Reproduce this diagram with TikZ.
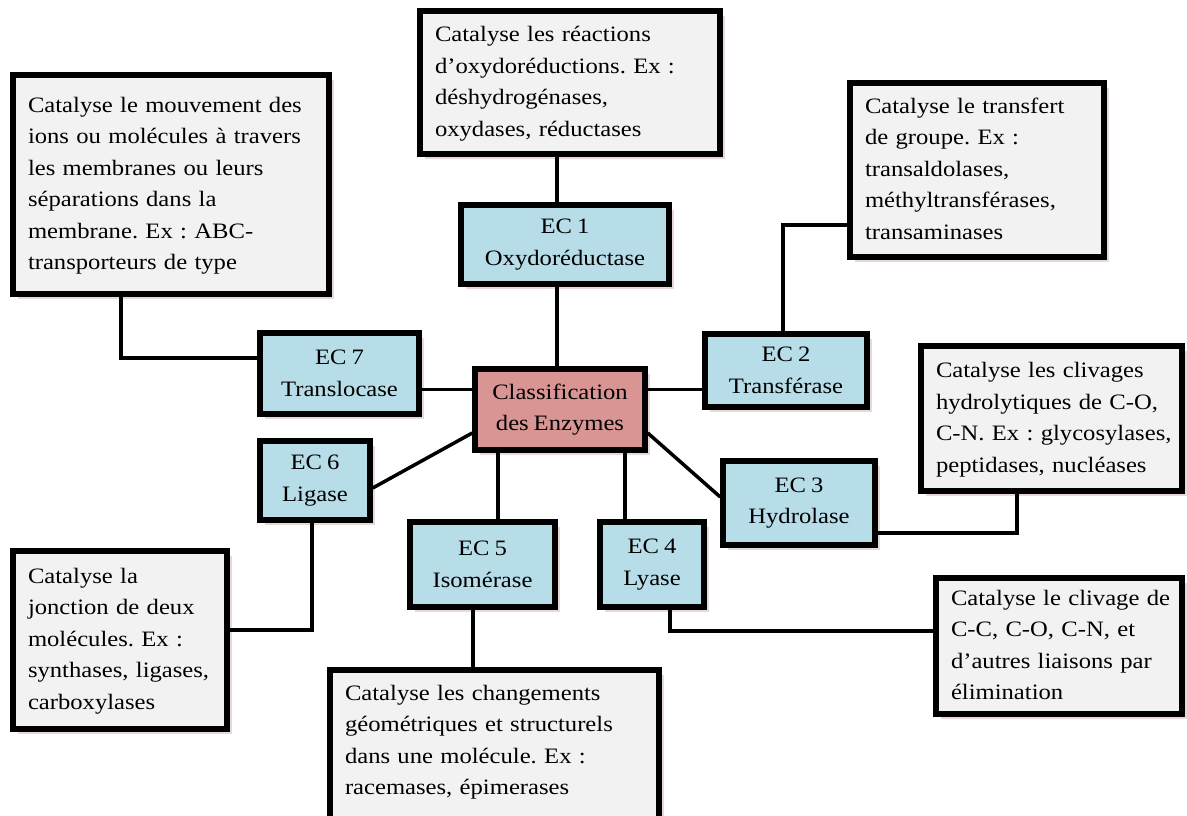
\documentclass[tikz,border=0pt]{standalone}
\usepackage{fontspec}
\setmainfont{Liberation Serif}[FakeStretch=1.12,WordSpace=0.8]
\usetikzlibrary{shadows}
\definecolor{Ink}{HTML}{000000}
\definecolor{Pale}{HTML}{F2F2F2}
\definecolor{Aqua}{HTML}{B7DDE8}
\definecolor{Rose}{HTML}{D99594}
\definecolor{Shade}{HTML}{CDB3B1}
\newcommand{\desclines}[1]{\begin{tabular}{@{}l@{}}#1\end{tabular}}
\frenchspacing

\begin{document}
\begin{tikzpicture}[x=1pt,y=-1pt,
    box/.style={draw=Ink,line width=5.5pt,font=\fontsize{22}{31.5}\selectfont,
      drop shadow={shadow xshift=5pt,shadow yshift=-5pt,fill=Shade}},
    sz/.style 2 args={minimum width=#1pt,minimum height=#2pt},
    ec/.style={box,fill=Aqua,align=center},
    hub/.style={box,fill=Rose,align=center},
    note/.style={box,fill=Pale,align=left},
    ln/.style={draw=Ink,line width=3.5pt}
  ]
    \useasboundingbox (0,0) rectangle (1187,816);
    % classes
    \node[hub,sz={170}{81}] (cls) at (560,409.5) {Classification\\des Enzymes};
    \node[ec,sz={208}{79}] (ec1) at (565,244.5) {EC 1\\Oxydoréductase};
    \node[ec,sz={162}{73}] (ec2) at (786,370.5) {EC 2\\Transférase};
    \node[ec,sz={152}{84}] (ec3) at (799,503) {EC 3\\Hydrolase};
    \node[ec,sz={104}{85}] (ec4) at (652,564.5) {EC 4\\Lyase};
    \node[ec,sz={145}{85}] (ec5) at (482.5,564.5) {EC 5\\Isomérase};
    \node[ec,sz={110}{79}] (ec6) at (315,480.5) {EC 6\\Ligase};
    \node[ec,sz={159}{81}] (ec7) at (339.5,373.5) {EC 7\\Translocase};
    % descriptions
    \node[note,sz={300}{143},text width=270pt] (d1) at (570,82.5) {\desclines{Catalyse les réactions\\d’oxydoréductions. Ex :\\déshydrogénases,\\oxydases, réductases}};
    \node[note,sz={254}{174},text width=224pt] (d2) at (977,170) {\desclines{Catalyse le transfert\\de groupe. Ex :\\transaldolases,\\méthyltransférases,\\transaminases}};
    \node[note,sz={261}{145},text width=231pt] (d3) at (1051.5,418.5) {\desclines{Catalyse les clivages\\hydrolytiques de C-O,\\C-N. Ex : glycosylases,\\peptidases, nucléases}};
    \node[note,sz={246}{136},text width=216pt] (d4) at (1059,646) {\desclines{Catalyse le clivage de\\C-C, C-O, C-N, et\\d’autres liaisons par\\élimination}};
    \node[note,sz={329}{174},text width=299pt] (d5) at (494.5,757) {\desclines{Catalyse les changements\\géométriques et structurels\\dans une molécule. Ex :\\racemases, épimerases\\ \mbox{}}};
    \node[note,sz={214}{178},text width=184pt] (d6) at (120,640) {\desclines{Catalyse la\\jonction de deux\\molécules. Ex :\\synthases, ligases,\\carboxylases}};
    \node[note,sz={316}{219},text width=286pt] (d7) at (171,184.5) {\desclines{Catalyse le mouvement des\\ions ou molécules à travers\\les membranes ou leurs\\séparations dans la\\membrane. Ex : ABC-\\transporteurs de type}};
    % links
    \coordinate (c1) at ([xshift=-8pt]ec1.north);
    \draw[ln] (c1 |- d1.south) -- (c1);
    \draw[ln] (c1 |- ec1.south) -- (c1 |- cls.north);
    \coordinate (c7) at ([yshift=20pt]cls.west);
    \draw[ln] (c7) -- (c7 -| ec7.east);
    \draw[ln] (c7 -| cls.east) -- (c7 -| ec2.west);
    \draw[ln] ([yshift=-23.5pt]cls.east) -- ([yshift=6pt]ec3.west);
    \draw[ln] ([yshift=-23.5pt]cls.west) -- ([yshift=-7.5pt]ec6.east);
    \coordinate (c5) at ([xshift=-62pt]cls.south);
    \draw[ln] (c5) -- (c5 |- ec5.north);
    \coordinate (c4) at ([xshift=65pt]cls.south);
    \draw[ln] (c4) -- (c4 |- ec4.north);
    \draw[ln] ([xshift=-50pt]d7.south) |- ([yshift=15.5pt]ec7.west);
    \draw[ln] ([xshift=-3pt]ec2.north) |- ([yshift=-55pt]d2.west);
    \draw[ln] ([yshift=-30pt]ec3.east) -| ([xshift=-34.5pt]d3.south);
    \draw[ln] ([xshift=18pt]ec4.south) |- ([yshift=15pt]d4.west);
    \coordinate (c9) at ([xshift=-9.5pt]ec5.south);
    \draw[ln] (c9) -- (c9 |- d5.north);
    \draw[ln] ([xshift=-3pt]ec6.south) |- ([yshift=10pt]d6.east);
\end{tikzpicture}
\end{document}
